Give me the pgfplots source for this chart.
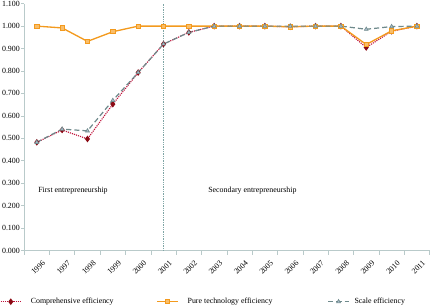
\documentclass[border=0pt]{standalone}
\usepackage{pgfplots}
\pgfplotsset{compat=1.18}
\usepackage{fontspec}
\setmainfont{Liberation Serif}

\definecolor{axisgray}{HTML}{B9CACA}
\definecolor{compred}{HTML}{C0143C}
\definecolor{compdark}{HTML}{8B0A14}
\definecolor{pureorange}{HTML}{F39A1E}
\definecolor{purefill}{HTML}{F9BE6A}
\definecolor{scalegray}{HTML}{6F8A8C}
\definecolor{scalefill}{HTML}{A9BCCB}
\definecolor{splitline}{HTML}{7FA5A5}

\newcommand\chartfont{\fontsize{7.7bp}{9bp}\selectfont}

\begin{document}
\chartfont
\begin{tikzpicture}
\begin{axis}[
  scale only axis,
  width=396bp, height=241bp,
  xmin=-0.5, xmax=15.5,
  ymin=0, ymax=1.1,
  axis x line*=bottom, axis y line*=left,
  axis line style={axisgray, line width=0.8pt},
  xtick={0,...,15},
  xticklabels={1996,1997,1998,1999,2000,2001,2002,2003,2004,2005,2006,2007,2008,2009,2010,2011},
  major x tick style={draw=none},
  minor xtick={-0.5,0.5,...,15.5},
  minor x tick style={axisgray, line width=0.6pt},
  minor tick length=4bp,
  xtick pos=bottom,
  x tick label style={xshift=5bp, yshift=-6bp, rotate=45, anchor=north east,
    inner sep=0pt, font=\chartfont},
  ytick={0,0.1,...,1.1},
  ytick style={axisgray, line width=0.6pt},
  major tick length=3bp,
  ytick pos=left,
  y tick label style={/pgf/number format/fixed, /pgf/number format/fixed zerofill,
    /pgf/number format/precision=3, /pgf/number format/assume math mode=true,
    font=\chartfont, inner sep=1pt},
  tick align=outside,
  legend columns=3,
  legend style={at={(rel axis cs:-0.06,-0.185)}, anchor=north west, draw=none, fill=none,
    font=\chartfont, inner sep=0pt,
    /tikz/column 1/.style={column sep=7bp},
    /tikz/column 2/.style={column sep=40bp},
    /tikz/column 3/.style={column sep=7bp},
    /tikz/column 4/.style={column sep=52bp},
    /tikz/column 5/.style={column sep=3bp}},
  legend image code/.code={%
    \draw[mark repeat=2, mark phase=2] plot coordinates {(0bp,0bp) (10bp,0bp) (20bp,0bp)};},
  legend cell align=left,
  clip=false,
]
% comprehensive efficiency
\addplot[compred, densely dotted, line width=1.1pt,
  mark=diamond*, mark size=2.4pt, mark options={solid, fill=compdark, draw=compdark}]
  coordinates {(0,0.482)(1,0.537)(2,0.497)(3,0.652)(4,0.793)(5,0.920)(6,0.972)(7,1.000)
  (8,1.000)(9,1.000)(10,0.997)(11,1.000)(12,1.000)(13,0.905)(14,0.977)(15,1.000)};
\addlegendentry{Comprehensive efficiency}
% pure technology efficiency
\addplot[pureorange, solid, line width=1.3pt,
  mark=square*, mark size=2.1pt, mark options={fill=purefill, draw=pureorange, line width=0.8pt}]
  coordinates {(0,1.000)(1,0.992)(2,0.932)(3,0.975)(4,1.000)(5,1.000)(6,1.000)(7,1.000)
  (8,1.000)(9,1.000)(10,0.997)(11,1.000)(12,1.000)(13,0.918)(14,0.979)(15,1.000)};
\addlegendentry{Pure technology efficiency}
% scale efficiency
\addplot[scalegray, dash pattern=on 5pt off 3pt, line width=1.2pt,
  mark=triangle*, mark size=2.2pt, mark options={solid, fill=scalefill, draw=scalegray, line width=0.6pt}]
  coordinates {(0,0.482)(1,0.541)(2,0.533)(3,0.669)(4,0.793)(5,0.920)(6,0.972)(7,1.000)
  (8,1.000)(9,1.000)(10,1.000)(11,1.000)(12,1.000)(13,0.986)(14,0.998)(15,1.000)};
\addlegendentry{Scale efficiency}
% split between the two phases
\draw[splitline, densely dotted, line width=0.7pt] (axis cs:5,0) -- (axis cs:5,1.1);
\node[anchor=west, inner sep=0pt] at (axis cs:0.05,0.265) {First entrepreneurship};
\node[anchor=west, inner sep=0pt] at (axis cs:6.76,0.265) {Secondary entrepreneurship};
\end{axis}
\end{tikzpicture}
\end{document}
